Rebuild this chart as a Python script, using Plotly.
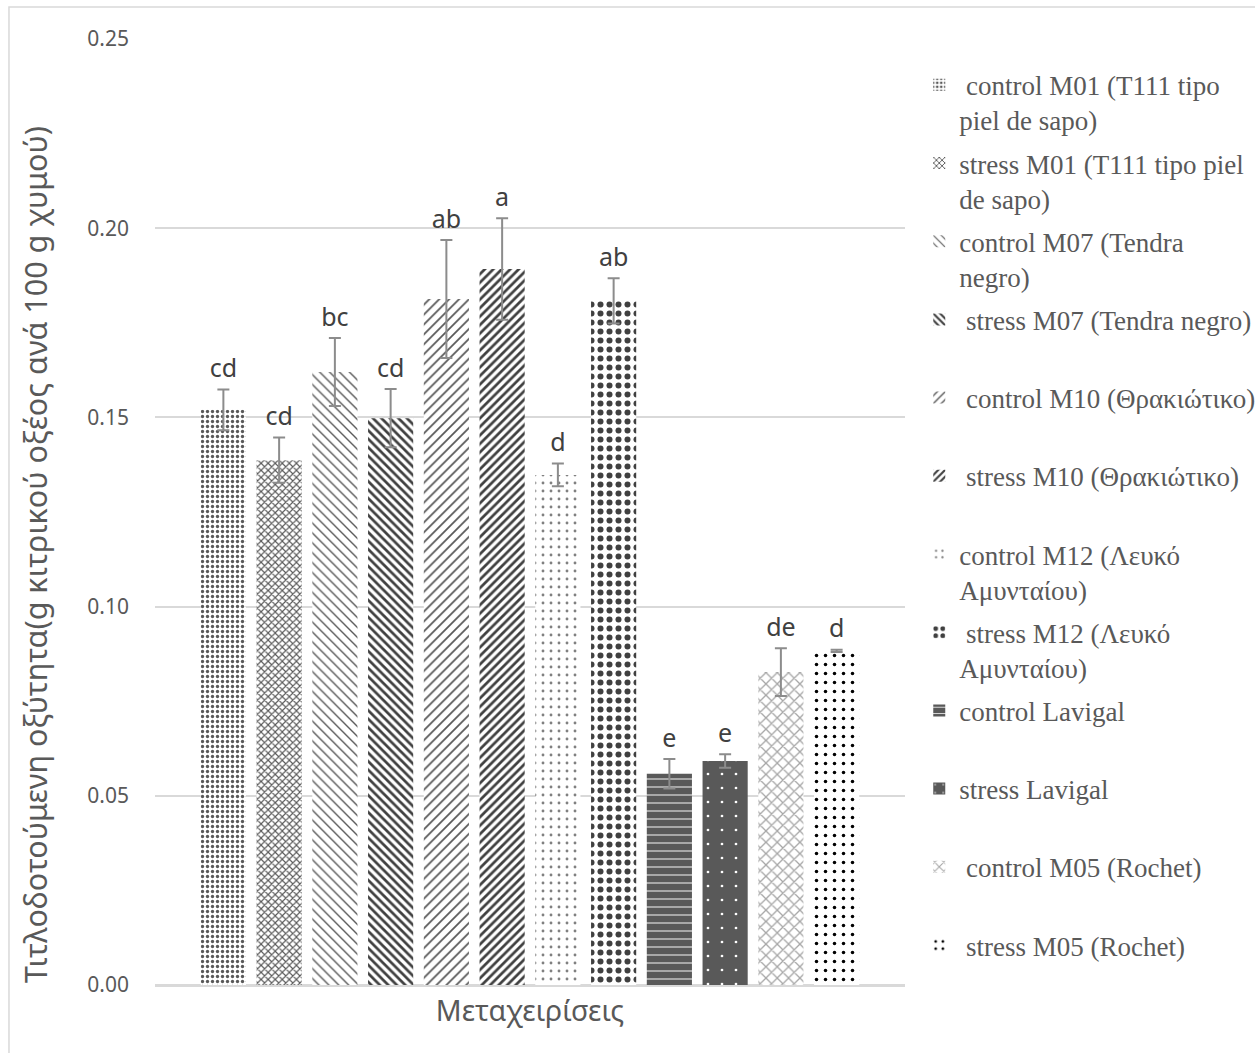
import plotly.graph_objects as go

category = ["Μεταχειρίσεις"]
series_names = [
    "\u00a0control M01 (T111 tipo<br>piel de sapo)",
    "stress M01 (T111 tipo piel<br>de sapo)",
    "control M07 (Tendra<br>negro)",
    "\u00a0stress M07 (Tendra negro)<br>\u00a0",
    "\u00a0control M10 (Θρακιώτικο)<br>\u00a0",
    "\u00a0stress M10 (Θρακιώτικο)<br>\u00a0",
    "control M12 (Λευκό<br>Αμυνταίου)",
    "\u00a0stress M12 (Λευκό<br>Αμυνταίου)",
    "control Lavigal<br>\u00a0",
    "stress Lavigal<br>\u00a0",
    "\u00a0control M05 (Rochet)<br>\u00a0",
    "\u00a0stress M05 (Rochet)<br>\u00a0",
]
values = [0.152, 0.1387, 0.162, 0.1498, 0.1813, 0.1892, 0.1348, 0.1808, 0.0558, 0.0592, 0.0827, 0.0883]
errors = [0.0054, 0.0060, 0.0090, 0.0077, 0.0156, 0.0134, 0.0030, 0.0060, 0.0039, 0.0018, 0.0063, 0.0003]
letters = ["cd", "cd", "bc", "cd", "ab", "a", "d", "ab", "e", "e", "de", "d"]
y_ticks = [0.00, 0.05, 0.10, 0.15, 0.20, 0.25]
y_title = "Τιτλοδοτούμενη οξύτητα(g κιτρικού οξέος ανά 100 g χυμού)"

# pattern styles (shape, fg, bg, size, solidity)
pat_shape = [".", "x", "\\", "\\", "/", "/", ".", ".", "-", ".", "x", "."]
pat_fg = ["#595959", "#595959", "#595959", "#404040", "#595959", "#404040",
          "#808080", "#404040", "#ffffff", "#ffffff", "#a6a6a6", "#000000"]
pat_bg = ["#ffffff"] * 8 + ["#595959", "#595959"] + ["#ffffff", "#ffffff"]
pat_size = [5, 5, 7, 6, 7, 6, 8, 9, 8, 14, 8, 9]
pat_sol = [0.35, 0.4, 0.2, 0.45, 0.25, 0.45, 0.1, 0.35, 0.12, 0.03, 0.3, 0.12]

sans = "Noto Sans, Open Sans, sans-serif"
serif = "Liberation Serif, Times New Roman, serif"

fig = go.Figure()
for i, name in enumerate(series_names):
    fig.add_trace(go.Bar(
        x=category, y=[values[i]], name=name,
        offsetgroup=str(i), legendgroup=str(i),
        marker=dict(color="#ffffff", line=dict(width=0),
                    pattern=dict(shape=pat_shape[i], fgcolor=pat_fg[i], bgcolor=pat_bg[i],
                                 size=pat_size[i], solidity=pat_sol[i], fillmode="replace")),
        error_y=dict(type="data", array=[errors[i]], visible=True,
                     color="#8c8c8c", thickness=2, width=6),
    ))
for i, lab in enumerate(letters):
    fig.add_trace(go.Scatter(
        x=category, y=[values[i] + errors[i]], mode="markers+text", text=[lab],
        marker=dict(size=8, opacity=0),
        textposition="top center", offsetgroup=str(i), showlegend=False,
        textfont=dict(family=sans, size=25, color="#404040"),
        hoverinfo="skip",
    ))

fig.update_layout(
    width=1255, height=1053,
    paper_bgcolor="white", plot_bgcolor="white",
    margin=dict(l=155, r=350, t=39, b=68, autoexpand=False),
    barmode="group", bargap=0.108, bargroupgap=0.19,
    scattermode="group", scattergap=0.108,
    showlegend=True,
    legend=dict(x=1.019, xanchor="left", y=0.977, yanchor="top",
                font=dict(family=serif, size=27, color="#595959"),
                traceorder="grouped", tracegroupgap=5, valign="top",
                itemwidth=30, bgcolor="rgba(0,0,0,0)"),
    font=dict(family=sans, color="#595959"),
    shapes=[dict(type="rect", xref="paper", yref="paper",
                 x0=-0.1947, x1=1.48, y0=-0.09, y1=1.0338,
                 line=dict(color="#d9d9d9", width=1.5), fillcolor="rgba(0,0,0,0)", layer="below")],
    annotations=[dict(text=y_title, xref="paper", yref="paper", x=-0.16, y=0.4545,
                      xanchor="center", yanchor="middle", textangle=-90, showarrow=False,
                      font=dict(family=sans, size=30.5, color="#595959"))],
)
fig.update_yaxes(range=[0, 0.25], tickvals=y_ticks, tickformat=".2f",
                 showgrid=True, gridcolor="#d9d9d9", gridwidth=1.5,
                 zeroline=True, zerolinecolor="#d9d9d9", zerolinewidth=1.5,
                 showline=False, ticks="", ticklabelstandoff=25,
                 tickfont=dict(family=sans, size=21, color="#595959"))
fig.update_xaxes(showgrid=False, showline=True, linecolor="#d9d9d9", linewidth=1.5,
                 ticks="", tickfont=dict(family=sans, size=28.5, color="#595959"))

fig.write_html("out.html", post_script="document.body.style.margin='0';",
               config={"displayModeBar": False})
